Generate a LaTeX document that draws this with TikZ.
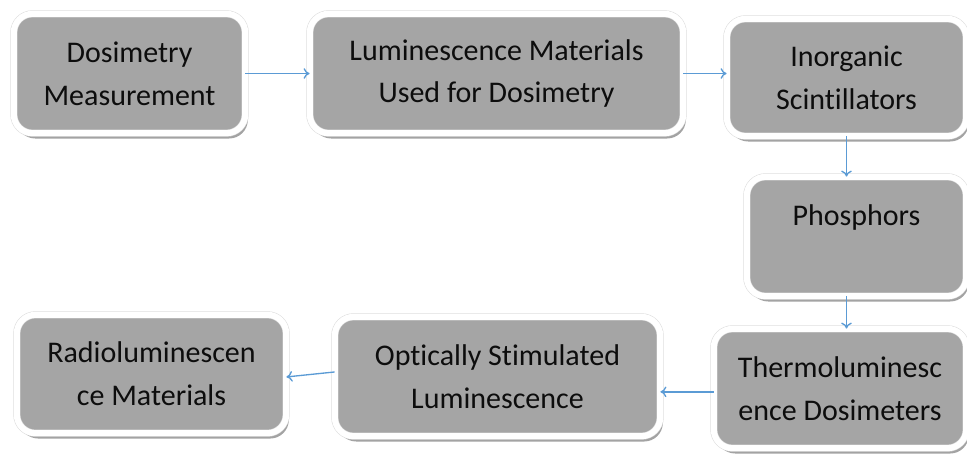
\documentclass[tikz,border=0pt]{standalone}
\usepackage{fontspec}
\setmainfont[Ligatures=NoCommon]{Carlito}
\usetikzlibrary{shadows,arrows.meta}
\definecolor{boxgray}{HTML}{A5A5A5}
\definecolor{linkblue}{HTML}{5B9BD5}
\tikzset{
  stage/.style={rounded corners=14pt, fill=boxgray, draw=black!14, double=white, double distance=4.5pt,
    align=center, text=black!95, font=\fontsize{22.5}{32}\selectfont,
    drop shadow={shadow xshift=2pt, shadow yshift=-4pt, fill=black!45, opacity=0.8}},
  link/.style={draw=linkblue, line width=1pt, -{To[length=4.5pt,width=8pt]}}
}
\begin{document}
\begin{tikzpicture}[x=0.75pt, y=-0.75pt]

\useasboundingbox (0,0) rectangle (967,454);

\node[stage, minimum width=173.5pt, minimum height=89.5pt] (dose) at (129.5,73.5) {Dosimetry\\Measurement};

\node[stage, minimum width=280pt, minimum height=89.5pt] (lumi) at (496.5,73.5) {Luminescence Materials\\Used for Dosimetry};

\node[stage, minimum width=179.5pt, minimum height=88pt] (inorg) at (846.5,77.5) {Inorganic\\Scintillators};

\node[stage, minimum width=164.5pt, minimum height=89.5pt] (phos) at (856.5,236.5) {Phosphors\\\mbox{}};

\node[stage, minimum width=189.3pt, minimum height=89.5pt] (thermo) at (840,388.5) {Thermoluminesc\\ence Dosimeters};

\node[stage, minimum width=244pt, minimum height=89.5pt] (osl) at (497.5,376.5) {Optically Stimulated\\Luminescence};

\node[stage, minimum width=202pt, minimum height=88.8pt] (radio) at (151.5,374) {Radioluminescen\\ce Materials};

\draw[link] (dose.east) -- (lumi.west);

\draw[link] (lumi.east) -- (lumi.east -| inorg.west);

\draw[link] (inorg.south) -- (inorg.south |- phos.north);

\draw[link] (inorg.south |- phos.south) -- (inorg.south |- thermo.north);

\draw[link] ([yshift=-2.5pt]thermo.west) -- ([yshift=-2.5pt]thermo.west -| osl.east);

\draw[link] ([yshift=3.4pt]osl.west) -- ([yshift=-2.2pt]radio.east);

\end{tikzpicture}
\end{document}
